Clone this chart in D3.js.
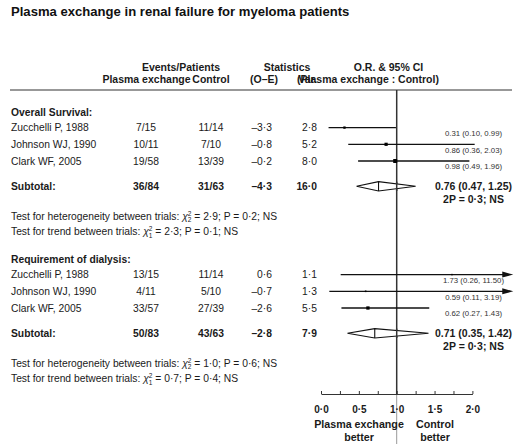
<!DOCTYPE html>
<html><head><meta charset="utf-8">
<script src="https://cdn.jsdelivr.net/npm/d3@7"></script>
<style>
html,body{margin:0;padding:0;background:#fff;}
svg{display:block;font-family:"Liberation Sans",Arial,Helvetica,sans-serif;}
</style></head>
<body>
<script>
// ---------- DATA ----------
const title = "Plasma exchange in renal failure for myeloma patients";
const sections = ["Overall Survival:", "Requirement of dialysis:"];
const studies = ["Zucchelli P, 1988", "Johnson WJ, 1990", "Clark WF, 2005"];

const peEvents   = [["7/15", "10/11", "19/58"], ["13/15", "4/11", "33/57"]];
const ctrlEvents = [["11/14", "7/10", "13/39"], ["11/14", "5/10", "27/39"]];
const oMinusE    = [[-3.3, -0.8, -0.2], [0.6, -0.7, -2.6]];
const variance   = [[2.8, 5.2, 8.0], [1.1, 1.3, 5.5]];
const oddsRatio  = [[0.31, 0.86, 0.98], [1.73, 0.59, 0.62]];
const ciLow      = [[0.10, 0.36, 0.49], [0.26, 0.11, 0.27]];
const ciHigh     = [[0.99, 2.03, 1.96], [11.50, 3.19, 1.43]];

const subPE    = ["36/84", "50/83"];
const subCtrl  = ["31/63", "43/63"];
const subOE    = [-4.3, -2.8];
const subVar   = [16.0, 7.9];
const subOR    = [0.76, 0.71];
const subLow   = [0.47, 0.35];
const subHigh  = [1.25, 1.42];
const subP     = [0.3, 0.3];

const hetChi = [2.9, 1.0], hetDf = [2, 2], hetP = [0.2, 0.6];
const trendChi = [2.3, 0.7], trendDf = [1, 1], trendP = [0.1, 0.4];

const axisTicks = [0, 0.25, 0.5, 0.75, 1, 1.25, 1.5, 1.75, 2];
const axisLabels = [0, 0.5, 1, 1.5, 2];
const axisClip = 2.54;

// ---------- LAYOUT ----------
const W = 520, H = 446;
const svg = d3.select("body").append("svg").attr("width", W).attr("height", H);
const x = d3.scaleLinear().domain([0, 2]).range([321, 472.4]);
const sectionTop = [112, 259];
const rowOff = i => 15.6 + 16.7 * i;
const subOff = 74.3, hetOff = 104, trendOff = 119.5;
const ink = "#1a1a1a";
const fs = 10.3;

const dotFmt = v => d3.format(".1f")(Math.abs(v)).replace(".", "·");
const signed = v => (v < 0 ? "–" : "") + dotFmt(v);
const f2 = d3.format(".2f");
const orText = (o, l, h) => `${f2(o)} (${f2(l)}, ${f2(h)})`;

const colPE = 146, colCtrl = 211, colOE = 272, colVar = 317, colOR = 473.5;

function txt(xp, yp, s, opts = {}) {
  return svg.append("text").attr("x", xp).attr("y", yp).attr("dy", "0.36em")
    .attr("font-size", opts.size || fs)
    .attr("font-weight", opts.bold ? "bold" : "normal")
    .attr("text-anchor", opts.anchor || "start")
    .attr("fill", opts.fill || ink).text(s);
}

// Title
svg.append("text").attr("x", 11).attr("y", 16).attr("font-size", 13.1)
  .attr("font-weight", "bold").attr("fill", "#111").text(title);

// Column headers
txt(181, 67, "Events/Patients", {bold: true, anchor: "middle", size: 10.5});
txt(146.5, 79, "Plasma exchange", {bold: true, anchor: "middle", size: 10.5});
txt(211, 79, "Control", {bold: true, anchor: "middle", size: 10.5});
txt(287, 67, "Statistics", {bold: true, anchor: "middle", size: 10.5});
txt(264, 79, "(O–E)", {bold: true, anchor: "middle", size: 10.5});
txt(317, 79, "Var.", {bold: true, anchor: "end", size: 10.5});
txt(388.5, 67, "O.R. & 95% CI", {bold: true, anchor: "middle", size: 10.5});
txt(368, 79, "(Plasma exchange : Control)", {bold: true, anchor: "middle", size: 10.5});

// Header rule
svg.append("line").attr("x1", 10).attr("x2", 512).attr("y1", 90).attr("y2", 90)
  .attr("stroke", "#333").attr("stroke-width", 1.2);

// Reference line at OR = 1
svg.append("line").attr("x1", x(1)).attr("x2", x(1)).attr("y1", 90).attr("y2", 394)
  .attr("stroke", "#333").attr("stroke-width", 1.5);
svg.append("line").attr("x1", x(1)).attr("x2", x(1)).attr("y1", 394).attr("y2", 444)
  .attr("stroke", "#999").attr("stroke-width", 1);

function chiLine(yp, label, chi, df, p) {
  const t = svg.append("text").attr("x", 11).attr("y", yp).attr("dy", "0.36em")
    .attr("font-size", fs).attr("fill", ink);
  t.append("tspan").text(label + " ");
  t.append("tspan").attr("font-style", "italic").text("χ");
  t.append("tspan").attr("font-size", 6.5).attr("dy", -4).text("2");
  t.append("tspan").attr("font-size", 6.5).attr("dx", -3.6).attr("dy", 6.5).text(df);
  t.append("tspan").attr("dy", -2.5).text(` = ${dotFmt(chi)}; P = ${dotFmt(p)}; NS`);
}

sections.forEach((sec, s) => {
  const top = sectionTop[s];
  txt(11, top, sec, {bold: true});
  studies.forEach((st, i) => {
    const yy = top + rowOff(i);
    txt(11, yy, st);
    txt(colPE, yy, peEvents[s][i], {anchor: "middle"});
    txt(colCtrl, yy, ctrlEvents[s][i], {anchor: "middle"});
    txt(colOE, yy, signed(oMinusE[s][i]), {anchor: "end"});
    txt(colVar, yy, dotFmt(variance[s][i]), {anchor: "end"});
    // CI line
    const hi = ciHigh[s][i];
    const clipped = hi > axisClip;
    const xEnd = x(Math.min(hi, axisClip));
    svg.append("line").attr("x1", x(ciLow[s][i])).attr("x2", clipped ? xEnd - 6 : xEnd)
      .attr("y1", yy).attr("y2", yy).attr("stroke", "#111").attr("stroke-width", 1.3);
    if (clipped) {
      svg.append("path")
        .attr("d", `M${xEnd},${yy}L${xEnd - 11},${yy - 3}L${xEnd - 11},${yy + 3}Z`)
        .attr("fill", "#111");
    }
    const side = 1.4 * Math.sqrt(variance[s][i]);
    svg.append("rect").attr("x", x(oddsRatio[s][i]) - side / 2).attr("y", yy - side / 2)
      .attr("width", side).attr("height", side).attr("fill", "#000");
    txt(colOR, yy + 5.6, orText(oddsRatio[s][i], ciLow[s][i], ciHigh[s][i]),
      {anchor: "middle", size: 7.8, fill: "#333"});
  });
  // Subtotal
  const ys = top + subOff;
  txt(11, ys, "Subtotal:", {bold: true});
  txt(colPE, ys, subPE[s], {bold: true, anchor: "middle"});
  txt(colCtrl, ys, subCtrl[s], {bold: true, anchor: "middle"});
  txt(colOE, ys, signed(subOE[s]), {bold: true, anchor: "end"});
  txt(colVar, ys, dotFmt(subVar[s]), {bold: true, anchor: "end"});
  const h = 4.7;
  svg.append("path")
    .attr("d", `M${x(subLow[s])},${ys}L${x(subOR[s])},${ys - h}L${x(subHigh[s])},${ys}L${x(subOR[s])},${ys + h}Z`)
    .attr("fill", "#fff").attr("stroke", "#111").attr("stroke-width", 1.1);
  svg.append("line").attr("x1", x(subOR[s])).attr("x2", x(subOR[s]))
    .attr("y1", ys - h).attr("y2", ys + h).attr("stroke", "#111").attr("stroke-width", 1.1);
  // redraw ref line segment through the diamond
  svg.append("line").attr("x1", x(1)).attr("x2", x(1)).attr("y1", ys - h).attr("y2", ys + h)
    .attr("stroke", "#333").attr("stroke-width", 1.5);
  txt(colOR, ys, orText(subOR[s], subLow[s], subHigh[s]), {bold: true, anchor: "middle", size: 10.5});
  txt(colOR, ys + 13, `2P = ${dotFmt(subP[s])}; NS`, {bold: true, anchor: "middle", size: 10.5});
  chiLine(top + hetOff, "Test for heterogeneity between trials:", hetChi[s], hetDf[s], hetP[s]);
  chiLine(top + trendOff, "Test for trend between trials:", trendChi[s], trendDf[s], trendP[s]);
});

// Axis
const axis = d3.axisBottom(x).tickValues(axisTicks).tickSize(-3).tickSizeOuter(0).tickPadding(12)
  .tickFormat(d => axisLabels.includes(d) ? dotFmt(d) : "");
const ga = svg.append("g").attr("transform", "translate(0,394)").call(axis);
ga.select(".domain").attr("stroke", "#333").attr("stroke-width", 1.2);
ga.selectAll(".tick line").attr("stroke", "#333").attr("stroke-width", 1);
ga.selectAll(".tick text").attr("font-size", 10).attr("font-weight", "bold")
  .attr("fill", ink).attr("font-family", "'Liberation Sans',Arial,sans-serif");

txt(359, 424, "Plasma exchange", {bold: true, anchor: "middle", size: 10.7});
txt(359, 437, "better", {bold: true, anchor: "middle", size: 10.7});
txt(435, 424, "Control", {bold: true, anchor: "middle", size: 10.7});
txt(435, 437, "better", {bold: true, anchor: "middle", size: 10.7});
</script>
</body></html>
